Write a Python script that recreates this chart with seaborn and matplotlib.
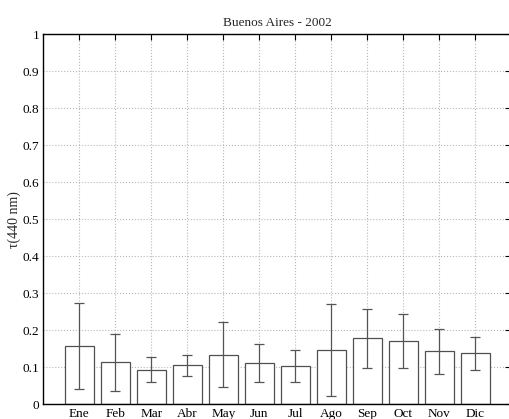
import matplotlib
matplotlib.use("Agg")
import matplotlib.pyplot as plt
import seaborn as sns
import numpy as np
import pandas as pd

months = ["Ene", "Feb", "Mar", "Abr", "May", "Jun", "Jul", "Ago", "Sep", "Oct", "Nov", "Dic"]
tau_mean = [0.157, 0.113, 0.094, 0.105, 0.134, 0.111, 0.104, 0.146, 0.178, 0.170, 0.143, 0.138]
tau_std = [0.116, 0.077, 0.033, 0.029, 0.088, 0.051, 0.044, 0.124, 0.079, 0.073, 0.061, 0.045]
yticks = [0, 0.1, 0.2, 0.3, 0.4, 0.5, 0.6, 0.7, 0.8, 0.9, 1]
ytick_labels = ["0", "0.1", "0.2", "0.3", "0.4", "0.5", "0.6", "0.7", "0.8", "0.9", "1"]

sns.set_style("white")
plt.rcParams["font.family"] = ["Liberation Serif", "DejaVu Serif"]

df = pd.DataFrame({"mes": months, "tau": tau_mean})

fig = plt.figure(figsize=(5.09, 4.19), dpi=100)
ax = fig.add_axes([43.3 / 509, 1 - 404.3 / 419, 468 / 509, 370 / 419])

sns.barplot(data=df, x="mes", y="tau", ax=ax, color="white", edgecolor="#505050",
            linewidth=0.9, width=0.8, errorbar=None, zorder=2, saturation=1)
pos = np.arange(len(months))
ax.errorbar(pos, tau_mean, yerr=tau_std, fmt="none", ecolor="#555555",
            elinewidth=0.9, capsize=3.5, capthick=0.9, zorder=3)

ax.set_xlim(-1, len(months))
ax.set_ylim(0, 1)
ax.set_yticks(yticks)
ax.set_yticklabels(ytick_labels)
ax.set_xticks(pos)
ax.set_xticklabels(months)
ax.set_xlabel("")
ax.set_ylabel("τ(440 nm)", fontsize=10, labelpad=1)
ax.set_title("Buenos Aires - 2002", fontsize=9.5, pad=6)

ax.grid(True, which="major", linestyle=":", color="#b8b8b8", linewidth=0.8, zorder=0)
ax.set_axisbelow(True)
ax.tick_params(direction="in", length=4, width=0.8, top=True, right=True,
               labelsize=9.5, colors="black", pad=3)
for s in ax.spines.values():
    s.set_color("black")
    s.set_linewidth(1.0)
    s.set_visible(True)

fig.savefig("out.png", dpi=100)
